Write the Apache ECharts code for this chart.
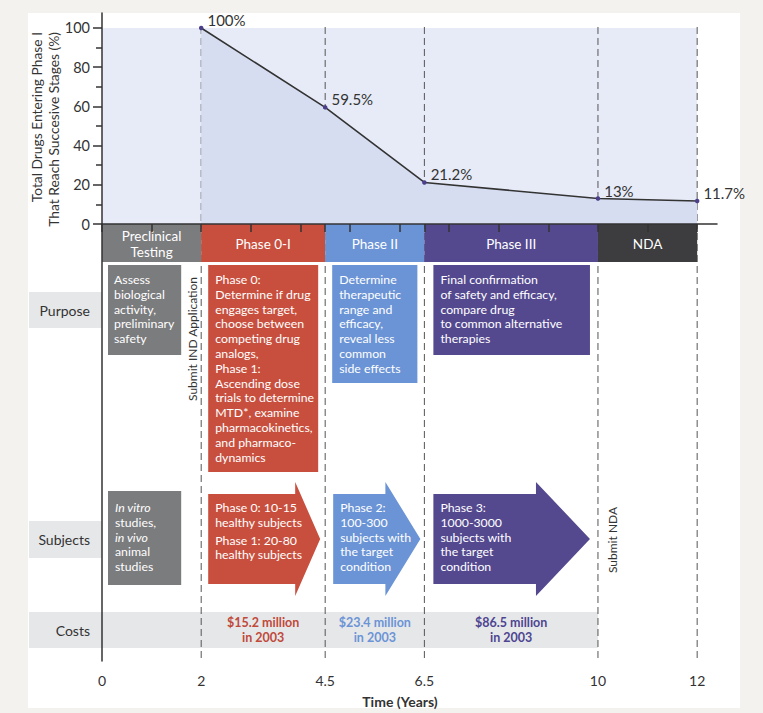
<!DOCTYPE html>
<html><head><meta charset="utf-8">
<script src="https://cdn.jsdelivr.net/npm/echarts@6/dist/echarts.min.js"></script>
<style>
html,body{margin:0;padding:0;background:#f3f2ee;}
#panel{position:absolute;left:28px;top:13px;width:712px;height:695px;background:#fff;}
#chart{position:absolute;left:0;top:0;width:763px;height:713px;}
</style></head><body>
<div id="panel"></div><div id="chart"></div>
<script>
// ---------- data ----------
const years = [2, 4.5, 6.5, 10, 12];
const reachPct = [100, 59.5, 21.2, 13, 11.7];
const xTickValues = [0, 1, 2, 3, 4, 4.5, 5, 6, 6.5, 7, 8, 9, 10, 11, 12];
const xLabelValues = [0, 2, 4.5, 6.5, 10, 12];
const yMajorTicks = [0, 20, 40, 60, 80, 100];
const yMinorTicks = [10, 30, 50, 70, 90];
const phaseNames = ['Preclinical\nTesting', 'Phase 0-I', 'Phase II', 'Phase III', 'NDA'];
const phaseStart = [0, 2, 4.5, 6.5, 10];
const phaseEnd = [2, 4.5, 6.5, 10, 12];
const purposeText = [
  'Assess\nbiological\nactivity,\npreliminary\nsafety',
  'Phase 0:\nDetermine if drug\nengages target,\nchoose between\ncompeting drug\nanalogs,\nPhase 1:\nAscending dose\ntrials to determine\nMTD*, examine\npharmacokinetics,\nand pharmaco-\ndynamics',
  'Determine\ntherapeutic\nrange and\nefficacy,\nreveal less\ncommon\nside effects',
  'Final confirmation\nof safety and efficacy,\ncompare drug\nto common alternative\ntherapies'
];
const subjectText = [
  ['{i|In vitro}\nstudies,\n{i|in vivo}\nanimal\nstudies'],
  ['Phase 0: 10-15\nhealthy subjects', 'Phase 1: 20-80\nhealthy subjects'],
  ['Phase 2:\n100-300\nsubjects with\nthe target\ncondition'],
  ['Phase 3:\n1000-3000\nsubjects with\nthe target\ncondition']
];
const costText = ['', '$15.2 million\nin 2003', '$23.4 million\nin 2003', '$86.5 million\nin 2003', ''];
const costEndYear = 10;
const milestoneText = ['Submit IND Application', 'Submit NDA'];
const milestoneYear = [2, 10];
const rowLabels = ['Purpose', 'Subjects', 'Costs'];
const yAxisTitle = 'Total Drugs Entering Phase I\nThat Reach Succesive Stages (%)';
const xAxisTitle = 'Time (Years)';

// ---------- styles ----------
const FONT = 'Lato';
const phaseColors = ['#7b7c7e', '#c84f3e', '#6b94d6', '#54498f', '#3d3d3f'];
const costColors = ['#333', '#c0493a', '#6b94d6', '#4d4591', '#333'];
const TXT = '#333';
const BOX_FONT = 12.3;

// ---------- layout of the lower band (px below its top edge) ----------
const L = {
  bar: [0, 38],
  purposeTop: 41,
  purposeBottom: [131, 248, 159, 131],
  purposeInset: [[6, 20], [7, 7], [7, 7], [9, 8]],
  purposeLabel: [68, 104],
  subjBox: [267, 361],
  arrowBody: [270, 360],
  arrowHead: [258, 372],
  arrowLeftInset: [6, 7, 8, 9],
  arrowTipInset: [20, 5, 4, 8],
  arrowHeadLen: [0, 25, 35, 54],
  subjLabel: [297, 334],
  cost: [388, 424],
  labelWidth: 73,
  labelPadRight: 12,
  milestoneDx: [-9, 15],
  milestoneCy: [115, 316],
  lineH: 14.8,
  textPadTop: 7,
  paraGap: 3
};
const BAND_H = 437;

const baseText = { fontFamily: FONT, fontSize: BOX_FONT, lineHeight: L.lineH, fill: '#fff', align: 'left', verticalAlign: 'top' };

function renderBg(params, api) {
  const a = api.coord([0, 100]);
  const b = api.coord([12, 0]);
  return { type: 'rect', shape: { x: a[0], y: a[1], width: b[0] - a[0], height: b[1] - a[1] }, style: { fill: '#e7ebf7' } };
}
function renderDashTop(params, api) {
  const x = api.value(0);
  const a = api.coord([x, 100]);
  const b = api.coord([x, 0]);
  return { type: 'line', shape: { x1: a[0], y1: a[1] - 1, x2: b[0], y2: b[1] }, style: { stroke: '#555', lineWidth: 1, lineDash: [7, 4] } };
}
function renderDashBottom(params, api) {
  const x = api.value(0);
  const a = api.coord([x, 0]);
  const b = api.coord([x, BAND_H]);
  return { type: 'line', shape: { x1: a[0], y1: a[1], x2: b[0], y2: b[1] }, style: { stroke: '#555', lineWidth: 1, lineDash: [7, 4], lineDashOffset: 2 } };
}
function renderBar(params, api) {
  const i = api.value(2);
  const a = api.coord([phaseStart[i], L.bar[0]]);
  const b = api.coord([phaseEnd[i], L.bar[1]]);
  return { type: 'group', children: [
    { type: 'rect', shape: { x: a[0], y: a[1], width: b[0] - a[0], height: b[1] - a[1] }, style: { fill: phaseColors[i] } },
    { type: 'text', style: { text: phaseNames[i], x: (a[0] + b[0]) / 2, y: (a[1] + b[1]) / 2 + 1, align: 'center', verticalAlign: 'middle', fill: '#fff', fontSize: 13.5, fontFamily: FONT, lineHeight: 16.2 } }
  ] };
}
function renderPurpose(params, api) {
  const i = api.value(2);
  const x0 = api.coord([phaseStart[i], 0])[0] + L.purposeInset[i][0];
  const x1 = api.coord([phaseEnd[i], 0])[0] - L.purposeInset[i][1];
  const y0 = api.coord([0, L.purposeTop])[1];
  const y1 = api.coord([0, L.purposeBottom[i]])[1];
  return { type: 'group', children: [
    { type: 'rect', shape: { x: x0, y: y0, width: x1 - x0, height: y1 - y0 }, style: { fill: phaseColors[i] } },
    { type: 'text', style: Object.assign({}, baseText, { text: purposeText[i], x: x0 + 7 - (i === 0 ? 1 : 0), y: y0 + L.textPadTop }) }
  ] };
}
function renderSubjects(params, api) {
  const i = api.value(2);
  const x0 = api.coord([phaseStart[i], 0])[0] + L.arrowLeftInset[i];
  const tip = api.coord([phaseEnd[i], 0])[0] - L.arrowTipInset[i];
  const children = [];
  if (i === 0) {
    const y0 = api.coord([0, L.subjBox[0]])[1];
    const y1 = api.coord([0, L.subjBox[1]])[1];
    children.push({ type: 'rect', shape: { x: x0, y: y0, width: tip - x0, height: y1 - y0 }, style: { fill: phaseColors[i] } });
  } else {
    const b0 = api.coord([0, L.arrowBody[0]])[1];
    const b1 = api.coord([0, L.arrowBody[1]])[1];
    const h0 = api.coord([0, L.arrowHead[0]])[1];
    const h1 = api.coord([0, L.arrowHead[1]])[1];
    const mid = (h0 + h1) / 2;
    const xh = tip - L.arrowHeadLen[i];
    children.push({ type: 'polygon', shape: { points: [[x0, b0], [xh, b0], [xh, h0], [tip, mid], [xh, h1], [xh, b1], [x0, b1]] }, style: { fill: phaseColors[i] } });
  }
  let y = api.coord([0, L.subjBox[0]])[1] + 9;
  subjectText[i].forEach(function (para) {
    children.push({ type: 'text', style: Object.assign({}, baseText, { text: para, x: x0 + 7, y: y, rich: { i: { fontStyle: 'italic', fontFamily: FONT, fontSize: BOX_FONT, fill: '#fff', lineHeight: L.lineH } } }) });
    y += para.split('\n').length * L.lineH + L.paraGap;
  });
  return { type: 'group', children: children };
}
function renderRowLabel(params, api) {
  const i = api.value(2);
  const ax = api.coord([0, 0])[0];
  const rows = [L.purposeLabel, L.subjLabel, L.cost];
  const r = rows[i];
  const y0 = api.coord([0, r[0]])[1];
  const y1 = api.coord([0, r[1]])[1];
  const x0 = ax - L.labelWidth;
  const x1 = i === 2 ? api.coord([costEndYear, 0])[0] : ax;
  return { type: 'group', children: [
    { type: 'rect', shape: { x: x0, y: y0, width: x1 - x0, height: y1 - y0 }, style: { fill: '#e6e7e9' } },
    { type: 'text', style: { text: rowLabels[i], x: ax - L.labelPadRight, y: (y0 + y1) / 2, align: 'right', verticalAlign: 'middle', fill: TXT, fontSize: 14, fontFamily: FONT } }
  ] };
}
function renderCost(params, api) {
  const i = api.value(2);
  const a = api.coord([phaseStart[i], L.cost[0]]);
  const b = api.coord([phaseEnd[i], L.cost[1]]);
  return { type: 'text', style: { text: costText[i], x: (a[0] + b[0]) / 2, y: (a[1] + b[1]) / 2, align: 'center', verticalAlign: 'middle', fill: costColors[i], fontSize: 12.5, fontWeight: 'bold', fontFamily: FONT, lineHeight: 15.2 } };
}
function renderMilestone(params, api) {
  const i = api.value(2);
  const p = api.coord([milestoneYear[i], L.milestoneCy[i]]);
  return { type: 'text', x: p[0] + L.milestoneDx[i], y: p[1], rotation: Math.PI / 2, style: { text: milestoneText[i], x: 0, y: 0, align: 'center', verticalAlign: 'middle', fill: TXT, fontSize: 12, fontFamily: FONT } };
}

const axisLineStyle = { color: '#333', width: 1.5 };
const chart = echarts.init(document.getElementById('chart'), null, { renderer: 'svg', width: 763, height: 713 });
const option = {
  animation: false,
  textStyle: { fontFamily: FONT },
  grid: [
    { left: 102, right: 46, top: 13, height: 211 },
    { left: 102, right: 46, top: 224, height: BAND_H }
  ],
  xAxis: [
    { gridIndex: 0, type: 'value', min: 0, max: 12.4, show: false },
    { gridIndex: 1, type: 'value', min: 0, max: 12.4, z: 5, splitLine: { show: false },
      axisLine: { show: true, lineStyle: axisLineStyle },
      axisTick: { show: true, customValues: xTickValues, length: 8, lineStyle: axisLineStyle },
      axisLabel: { customValues: xLabelValues, color: TXT, fontSize: 14, margin: 12, fontFamily: FONT },
      name: xAxisTitle, nameLocation: 'middle', nameGap: 33,
      nameTextStyle: { color: TXT, fontSize: 14, fontWeight: 'bold', fontFamily: FONT, padding: [0, 19, 0, 0] } }
  ],
  yAxis: [
    { gridIndex: 0, type: 'value', position: 'left', min: 0, max: 107.65, z: 5, splitLine: { show: false },
      axisLine: { show: true, lineStyle: axisLineStyle },
      axisTick: { show: true, customValues: yMajorTicks, length: 9, lineStyle: axisLineStyle },
      axisLabel: { customValues: yMajorTicks, color: TXT, fontSize: 14.5, margin: 12, fontFamily: FONT } },
    { gridIndex: 0, type: 'value', position: 'left', min: 0, max: 107.65, z: 5, splitLine: { show: false },
      axisLine: { show: false },
      axisTick: { show: true, customValues: yMinorTicks, length: 6, lineStyle: axisLineStyle },
      axisLabel: { show: false } },
    { gridIndex: 1, type: 'value', position: 'left', min: 0, max: BAND_H, inverse: true, z: 5, splitLine: { show: false },
      axisLine: { show: true, lineStyle: axisLineStyle }, axisTick: { show: false }, axisLabel: { show: false } }
  ],
  graphic: [
    { type: 'text', x: 45, y: 32, rotation: Math.PI / 2, z: 10,
      style: { text: yAxisTitle, align: 'right', verticalAlign: 'middle', fill: TXT, fontSize: 13.8, fontFamily: FONT, lineHeight: 16.6 } }
  ],
  series: [
    { type: 'custom', xAxisIndex: 0, yAxisIndex: 0, z: 1, silent: true, data: [[0, 0]], renderItem: renderBg },
    { type: 'custom', xAxisIndex: 0, yAxisIndex: 0, z: 2, silent: true, data: years.map(x => [x, 0]), renderItem: renderDashTop },
    { type: 'line', xAxisIndex: 0, yAxisIndex: 0, z: 3,
      data: years.map((x, i) => [x, reachPct[i]]),
      symbol: 'circle', symbolSize: 4.5, itemStyle: { color: '#4b3f8c' },
      lineStyle: { color: '#333', width: 1.6 },
      areaStyle: { color: '#d6ddf1', opacity: 1, origin: 'start' },
      label: { show: true, position: 'right', distance: 4, offset: [0, -8], color: TXT, fontSize: 15, fontFamily: FONT,
        formatter: p => p.value[1] + '%' } },
    { type: 'custom', xAxisIndex: 1, yAxisIndex: 2, z: 1, silent: true, data: rowLabels.map((r, i) => [0, 0, i]), renderItem: renderRowLabel },
    { type: 'custom', xAxisIndex: 1, yAxisIndex: 2, z: 2, silent: true, data: years.map(x => [x, 0]), renderItem: renderDashBottom },
    { type: 'custom', xAxisIndex: 1, yAxisIndex: 2, z: 3, silent: true, data: phaseNames.map((n, i) => [phaseStart[i], 0, i]), renderItem: renderBar },
    { type: 'custom', xAxisIndex: 1, yAxisIndex: 2, z: 3, silent: true, data: purposeText.map((t, i) => [phaseStart[i], 0, i]), renderItem: renderPurpose },
    { type: 'custom', xAxisIndex: 1, yAxisIndex: 2, z: 3, silent: true, data: subjectText.map((t, i) => [phaseStart[i], 0, i]), renderItem: renderSubjects },
    { type: 'custom', xAxisIndex: 1, yAxisIndex: 2, z: 3, silent: true, data: costText.map((t, i) => [phaseStart[i], 0, i]).filter((d, i) => costText[i]), renderItem: renderCost },
    { type: 'custom', xAxisIndex: 1, yAxisIndex: 2, z: 3, silent: true, data: milestoneText.map((t, i) => [milestoneYear[i], 0, i]), renderItem: renderMilestone }
  ]
};
chart.setOption(option);
</script></body></html>
